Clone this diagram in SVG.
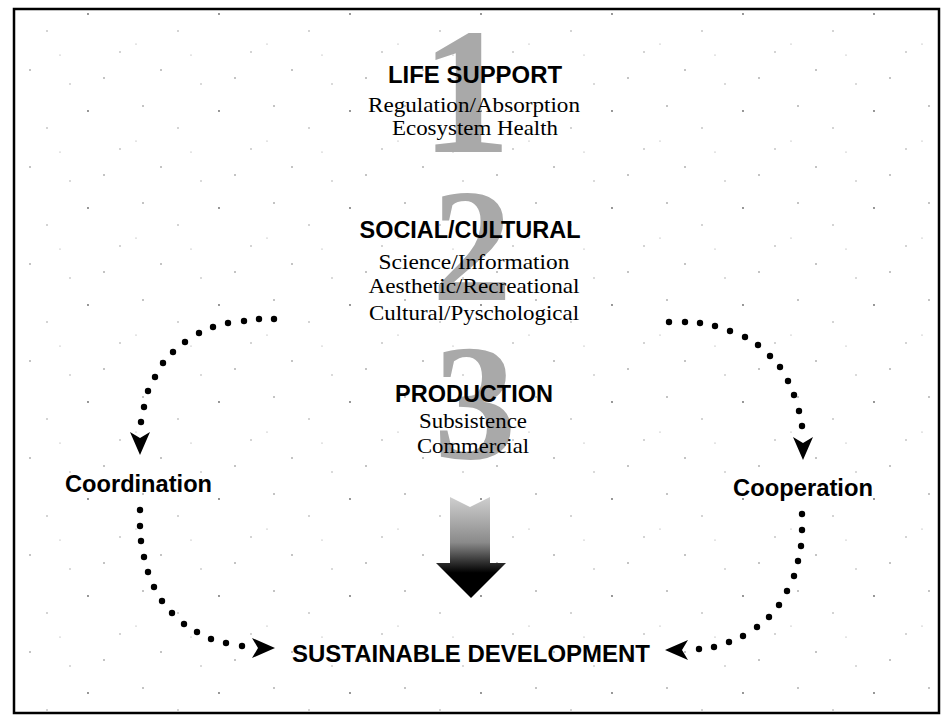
<svg xmlns="http://www.w3.org/2000/svg" width="942" height="716" viewBox="0 0 942 716">
<style>
.bg{fill:#ffffff}
.frame{fill:none;stroke:#000;stroke-width:2.5}
.num{font-family:"Liberation Serif",serif;font-weight:bold;fill:#a9a9a9;text-anchor:middle}
.head{font-family:"Liberation Sans",Arial,sans-serif;font-weight:bold;font-size:23px;fill:#000;text-anchor:middle}
.sub{font-family:"Liberation Serif",serif;font-size:21px;fill:#000;text-anchor:middle}
.lab{font-family:"Liberation Sans",Arial,sans-serif;font-weight:bold;font-size:24px;fill:#000}
.dot{fill:#000}
.ah{fill:#000}
</style>
<defs>
<path id="ah" d="M0,0 L-23,-10 L-17,0 L-23,10 Z"/>
<linearGradient id="shaft" x1="0" y1="0" x2="0" y2="1">
<stop offset="0" stop-color="#cfcfcf"/>
<stop offset="0.45" stop-color="#8a8a8a"/>
<stop offset="0.75" stop-color="#000"/>
<stop offset="1" stop-color="#000"/>
</linearGradient>
<pattern id="speck" width="131" height="97" patternUnits="userSpaceOnUse">
<circle cx="12" cy="9" r="0.8" fill="#777"/>
<circle cx="47" cy="31" r="0.7" fill="#888"/>
<circle cx="88" cy="14" r="0.9" fill="#666"/>
<circle cx="120" cy="52" r="0.7" fill="#888"/>
<circle cx="30" cy="70" r="0.8" fill="#777"/>
<circle cx="70" cy="84" r="0.7" fill="#999"/>
<circle cx="104" cy="78" r="0.8" fill="#777"/>
<circle cx="60" cy="55" r="0.6" fill="#999"/>
<circle cx="5" cy="44" r="0.6" fill="#999"/>
</pattern>
</defs>
<rect class="bg" x="0" y="0" width="942" height="716"/>
<rect x="14" y="9" width="924" height="704" fill="url(#speck)"/>
<rect class="frame" x="14" y="9" width="925" height="704"/>

<g id="life-support">
<text class="num" x="466" y="152" font-size="180">1</text>
<text class="head" x="475" y="83" textLength="174" lengthAdjust="spacingAndGlyphs">LIFE SUPPORT</text>
<text class="sub" x="474" y="112" textLength="212" lengthAdjust="spacingAndGlyphs">Regulation/Absorption</text>
<text class="sub" x="475" y="135" textLength="166" lengthAdjust="spacingAndGlyphs">Ecosystem Health</text>
</g>

<g id="social-cultural">
<text class="num" x="472" y="300" font-size="160">2</text>
<text class="head" x="470" y="238" textLength="221" lengthAdjust="spacingAndGlyphs">SOCIAL/CULTURAL</text>
<text class="sub" x="474" y="269" textLength="191" lengthAdjust="spacingAndGlyphs">Science/Information</text>
<text class="sub" x="474" y="293" textLength="211" lengthAdjust="spacingAndGlyphs">Aesthetic/Recreational</text>
<text class="sub" x="474" y="320" textLength="210" lengthAdjust="spacingAndGlyphs">Cultural/Pyschological</text>
</g>

<g id="production">
<text class="num" x="475" y="458" font-size="165">3</text>
<text class="head" x="474" y="402" textLength="158" lengthAdjust="spacingAndGlyphs">PRODUCTION</text>
<text class="sub" x="473" y="428" textLength="108" lengthAdjust="spacingAndGlyphs">Subsistence</text>
<text class="sub" x="473" y="453" textLength="112" lengthAdjust="spacingAndGlyphs">Commercial</text>
</g>

<g id="big-arrow">
<path d="M450,497 L470,507 L490,497 L490,563 L506,563 L471,598 L436,563 L450,563 Z" fill="url(#shaft)"/>
</g>

<g id="coordination">
<text class="lab" x="65" y="492" textLength="147" lengthAdjust="spacingAndGlyphs">Coordination</text>
</g>

<g id="cooperation">
<text class="lab" x="733" y="496" textLength="140" lengthAdjust="spacingAndGlyphs">Cooperation</text>
</g>

<g id="sustainable-development">
<text class="lab" x="292" y="662" textLength="358" lengthAdjust="spacingAndGlyphs">SUSTAINABLE DEVELOPMENT</text>
</g>

<g id="connectors">
<g class="dot">
<circle cx="274" cy="319" r="3.2"/><circle cx="259" cy="319" r="3.2"/><circle cx="244" cy="321" r="3.2"/><circle cx="228" cy="323" r="3.2"/><circle cx="213" cy="327" r="3.2"/><circle cx="199" cy="333" r="3.2"/><circle cx="185" cy="342" r="3.2"/><circle cx="173" cy="352" r="3.2"/><circle cx="163" cy="363" r="3.2"/><circle cx="155" cy="377" r="3.2"/><circle cx="148" cy="391" r="3.2"/><circle cx="144" cy="407" r="3.2"/><circle cx="141" cy="422" r="3.2"/>
<circle cx="140" cy="510" r="3.2"/><circle cx="140" cy="526" r="3.2"/><circle cx="141" cy="541" r="3.2"/><circle cx="144" cy="557" r="3.2"/><circle cx="148" cy="572" r="3.2"/><circle cx="154" cy="587" r="3.2"/><circle cx="162" cy="601" r="3.2"/><circle cx="172" cy="613" r="3.2"/><circle cx="184" cy="624" r="3.2"/><circle cx="197" cy="632" r="3.2"/><circle cx="211" cy="639" r="3.2"/><circle cx="226" cy="643" r="3.2"/><circle cx="242" cy="646" r="3.2"/>
<circle cx="669" cy="322" r="3.2"/><circle cx="685" cy="322" r="3.2"/><circle cx="700" cy="323" r="3.2"/><circle cx="715" cy="326" r="3.2"/><circle cx="730" cy="331" r="3.2"/><circle cx="745" cy="337" r="3.2"/><circle cx="758" cy="345" r="3.2"/><circle cx="770" cy="356" r="3.2"/><circle cx="780" cy="367" r="3.2"/><circle cx="788" cy="381" r="3.2"/><circle cx="794" cy="395" r="3.2"/><circle cx="799" cy="411" r="3.2"/><circle cx="802" cy="426" r="3.2"/>
<circle cx="802" cy="514" r="3.2"/><circle cx="802" cy="530" r="3.2"/><circle cx="801" cy="546" r="3.2"/><circle cx="798" cy="561" r="3.2"/><circle cx="794" cy="576" r="3.2"/><circle cx="787" cy="591" r="3.2"/><circle cx="779" cy="605" r="3.2"/><circle cx="769" cy="617" r="3.2"/><circle cx="757" cy="627" r="3.2"/><circle cx="743" cy="636" r="3.2"/><circle cx="729" cy="642" r="3.2"/><circle cx="714" cy="647" r="3.2"/><circle cx="699" cy="649" r="3.2"/>
</g>
<use href="#ah" class="ah" transform="translate(140,455) rotate(90)"/>
<use href="#ah" class="ah" transform="translate(803,460) rotate(90)"/>
<use href="#ah" class="ah" transform="translate(275,648)"/>
<use href="#ah" class="ah" transform="translate(665,650) rotate(180)"/>
</g>
</svg>
